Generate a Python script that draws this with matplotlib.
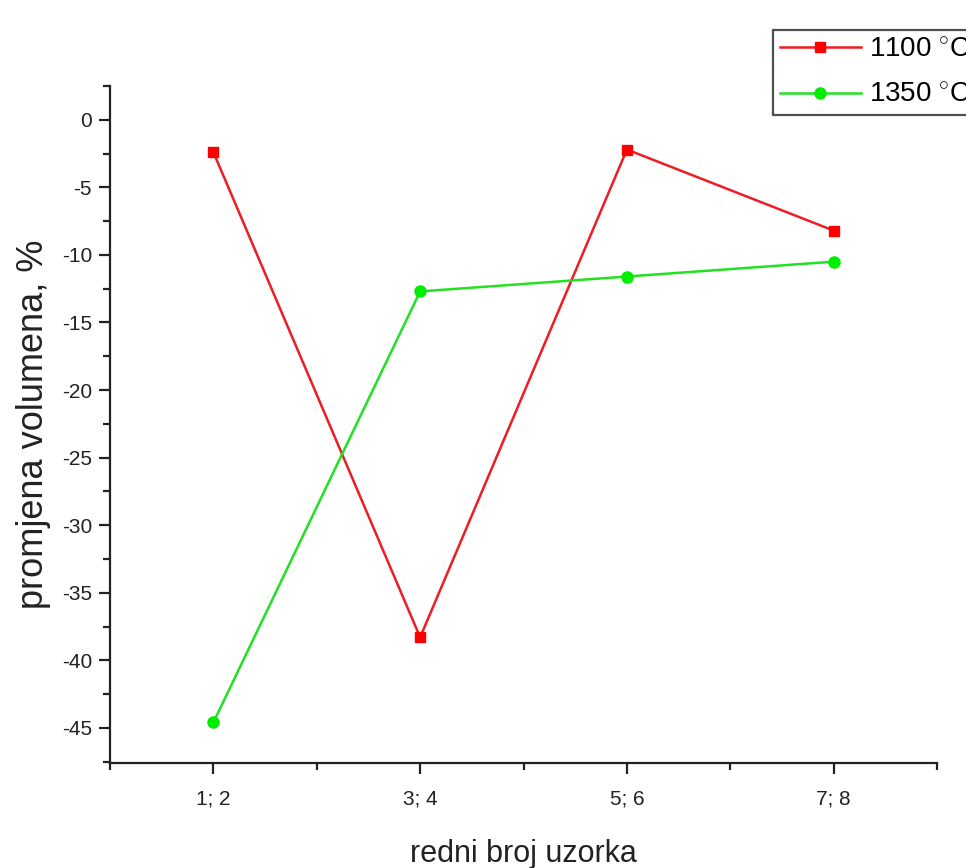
import matplotlib
matplotlib.use("Agg")
import matplotlib.pyplot as plt
from matplotlib.ticker import MultipleLocator

plt.rcParams['font.family'] = ['Liberation Sans', 'DejaVu Sans']
plt.rcParams['mathtext.fontset'] = 'custom'
plt.rcParams['mathtext.rm'] = 'Liberation Sans'
plt.rcParams['axes.unicode_minus'] = False

categories = ["1; 2", "3; 4", "5; 6", "7; 8"]
vals_1100 = [-2.4, -38.3, -2.2, -8.2]
vals_1350 = [-44.6, -12.7, -11.6, -10.5]
labels = ["1100 $^{\\circ}$C", "1350 $^{\\circ}$C"]

fig = plt.figure(figsize=(9.66, 8.68), dpi=100)
ax = fig.add_axes([0.1139, 0.1210, 0.970 - 0.1139, 0.9009 - 0.1210])

x = list(range(1, len(categories) + 1))
ax.plot(x, vals_1100, color='#ee1c24', lw=1.8, marker='s', ms=7.5,
        mfc='#ff0000', mec='#ff0000', label=labels[0])
ax.plot(x, vals_1350, color='#22e022', lw=1.8, marker='o', ms=8,
        mfc='#00ee00', mec='#00ee00', label=labels[1])

ax.set_xlim(0.5, 4.5)
ax.set_ylim(-47.6, 2.5)
ax.set_xticks(x)
ax.set_xticklabels(categories)
ax.xaxis.set_minor_locator(MultipleLocator(1.0, offset=0.5))
ax.yaxis.set_minor_locator(MultipleLocator(2.5))
ax.set_yticks([0, -5, -10, -15, -20, -25, -30, -35, -40, -45])

for s in ['top', 'right']:
    ax.spines[s].set_visible(False)
for s in ['left', 'bottom']:
    ax.spines[s].set_linewidth(1.6)
    ax.spines[s].set_color('#222222')

ax.tick_params(axis='both', which='major', direction='out', length=8, width=1.6,
               labelsize=15, colors='#222222', pad=5)
ax.tick_params(axis='x', which='major', pad=11)
ax.tick_params(axis='both', which='minor', direction='out', length=5, width=1.6,
               colors='#222222')

ax.set_xlabel("redni broj uzorka", fontsize=22, labelpad=22, color='#222222')
ax.set_ylabel("promjena volumena, %", fontsize=26, labelpad=8, color='#222222')

leg = ax.legend(loc='upper left', bbox_to_anchor=(773 / 966, 1 - 30 / 868),
                bbox_transform=fig.transFigure, fontsize=20, frameon=True,
                fancybox=False, borderaxespad=0, handlelength=2.9,
                handletextpad=0.3, labelspacing=0.7, borderpad=0.25)
leg.get_frame().set_edgecolor('#222222')
leg.get_frame().set_linewidth(1.6)

fig.savefig("out.png", dpi=100)
